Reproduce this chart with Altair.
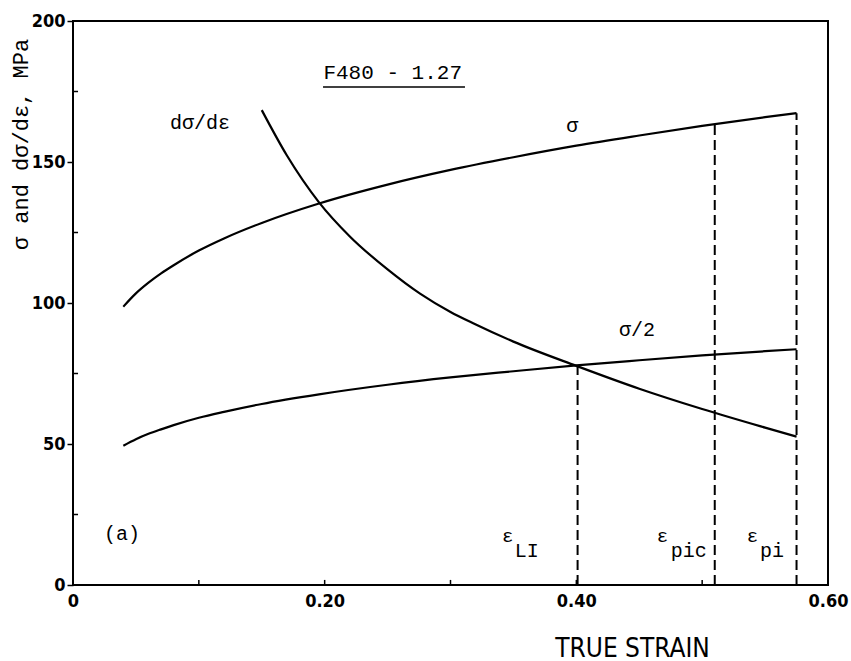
import altair as alt
import pandas as pd

# ---- data ----
strain_sigma = [0.04, 0.05, 0.06, 0.07, 0.08, 0.10, 0.12, 0.15, 0.1955, 0.25, 0.30, 0.35, 0.40, 0.45, 0.50, 0.55, 0.575]
sigma = [98.7, 103.4, 107.2, 110.5, 113.4, 118.6, 122.9, 128.4, 135.3, 142.0, 147.2, 151.7, 155.8, 159.4, 162.8, 165.9, 167.3]
sigma_half = [49.4, 51.7, 53.6, 55.2, 56.7, 59.3, 61.4, 64.2, 67.6, 71.0, 73.6, 75.8, 77.9, 79.7, 81.4, 82.9, 83.6]

strain_rate = [0.15, 0.17, 0.1955, 0.22, 0.25, 0.2758, 0.30, 0.318, 0.35, 0.40, 0.45, 0.50, 0.55, 0.575]
dsigma_deps = [168.4, 152.3, 135.7, 123.6, 111.9, 103.3, 96.8, 92.8, 86.3, 77.7, 69.6, 62.4, 55.8, 52.6]

critical_strain = [0.401, 0.510, 0.575]
critical_top = [77.9, 163.4, 167.3]

x_tick_values = [0.0, 0.2, 0.4, 0.6]
y_tick_values = [0, 50, 100, 150, 200]
x_minor = [0.1, 0.2, 0.3, 0.4, 0.5]
y_minor = [25, 75, 125, 175]

label_text = ["F480 - 1.27", "dσ/dε", "σ", "σ/2", "(a)", "ε", "LI", "ε", "pic", "ε", "pi"]
label_x = [0.199, 0.077, 0.392, 0.434, 0.0246, 0.341, 0.351, 0.464, 0.475, 0.5355, 0.546]
label_y = [179.5, 161.7, 160.6, 88.3, 16.0, 15.2, 9.9, 15.2, 9.9, 15.2, 9.9]
label_size = [21, 20, 20, 20, 20, 19, 20, 19, 20, 19, 20]

title_x = [0.1987]
title_x2 = [0.3115]
title_line_y = [176.6]

# ---- tables ----
curves = pd.concat([
    pd.DataFrame({"strain": strain_sigma, "value": sigma, "series": "sigma"}),
    pd.DataFrame({"strain": strain_sigma, "value": sigma_half, "series": "sigma/2"}),
    pd.DataFrame({"strain": strain_rate, "value": dsigma_deps, "series": "dsigma/deps"}),
])
crit = pd.DataFrame({"strain": critical_strain, "top": critical_top, "base": [0] * 3})
labels = pd.DataFrame({"x": label_x, "y": label_y, "text": label_text, "size": label_size})
underline = pd.DataFrame({"x": title_x, "x2": title_x2, "y": title_line_y})
xminor = pd.DataFrame({"x": x_minor, "y0": [0] * len(x_minor), "y1": [1.8] * len(x_minor)})
yminor = pd.DataFrame({"y": y_minor, "x0": [0] * len(y_minor), "x1": [0.004] * len(y_minor)})

MONO = "Liberation Mono, Courier New, monospace"
NARROW = "Liberation Sans Narrow, DejaVu Sans Condensed, Arial Narrow, sans-serif"

xscale = alt.Scale(domain=[0, 0.6], nice=False, zero=False)
yscale = alt.Scale(domain=[0, 200], nice=False)

xaxis = alt.Axis(
    values=x_tick_values, grid=False, ticks=False, domain=False,
    labelExpr="datum.value == 0 ? '0' : format(datum.value, '.2f')",
    labelFont=NARROW, labelFontSize=18, labelFontWeight="bold", labelColor="black",
    labelPadding=7, labelFlush=False,
    title="TRUE STRAIN", titleFont=NARROW, titleFontSize=26, titleFontWeight="normal",
    titleColor="black", titleX=559, titleY=63, titleAlign="center", titleBaseline="middle",
)
yaxis = alt.Axis(
    values=y_tick_values, grid=False, ticks=True, tickSize=6, tickWidth=1.5, tickColor="black",
    domain=False, labelFont=NARROW, labelFontSize=18, labelFontWeight="bold", labelColor="black",
    labelPadding=2, labelFlush=False,
    title="σ and dσ/dε, MPa", titleFont=MONO, titleFontSize=22, titleFontWeight="normal",
    titleColor="black", titleAngle=270, titleX=-53, titleY=123, titleAlign="center",
    titleBaseline="middle",
)

base = alt.Chart(curves)

lines = base.mark_line(color="black", strokeWidth=2.2, interpolate="monotone").encode(
    x=alt.X("strain:Q", scale=xscale, axis=xaxis),
    y=alt.Y("value:Q", scale=yscale, axis=yaxis),
    detail="series:N",
)

dashes = alt.Chart(crit).mark_rule(color="black", strokeWidth=2, strokeDash=[10, 5]).encode(
    x="strain:Q", y="base:Q", y2="top:Q"
)

texts = alt.Chart(labels).mark_text(
    align="left", baseline="alphabetic", font=MONO, color="black"
).encode(
    x="x:Q", y="y:Q", text="text:N", size=alt.Size("size:Q", scale=None, legend=None)
)

uline = alt.Chart(underline).mark_rule(color="black", strokeWidth=1.5).encode(
    x="x:Q", x2="x2:Q", y="y:Q"
)

xt = alt.Chart(xminor).mark_rule(color="black", strokeWidth=1.5).encode(
    x="x:Q", y="y0:Q", y2="y1:Q"
)
yt = alt.Chart(yminor).mark_rule(color="black", strokeWidth=1.5).encode(
    y="y:Q", x="x0:Q", x2="x1:Q"
)

chart = alt.layer(lines, dashes, texts, uline, xt, yt).properties(
    width=755, height=564,
    padding={"left": 73, "top": 21, "right": 23, "bottom": 76},
    autosize=alt.AutoSizeParams(type="none"),
    background="white",
).configure_view(stroke="black", strokeWidth=2)

chart.save("out.html", embed_options={"renderer": "svg", "actions": False})
